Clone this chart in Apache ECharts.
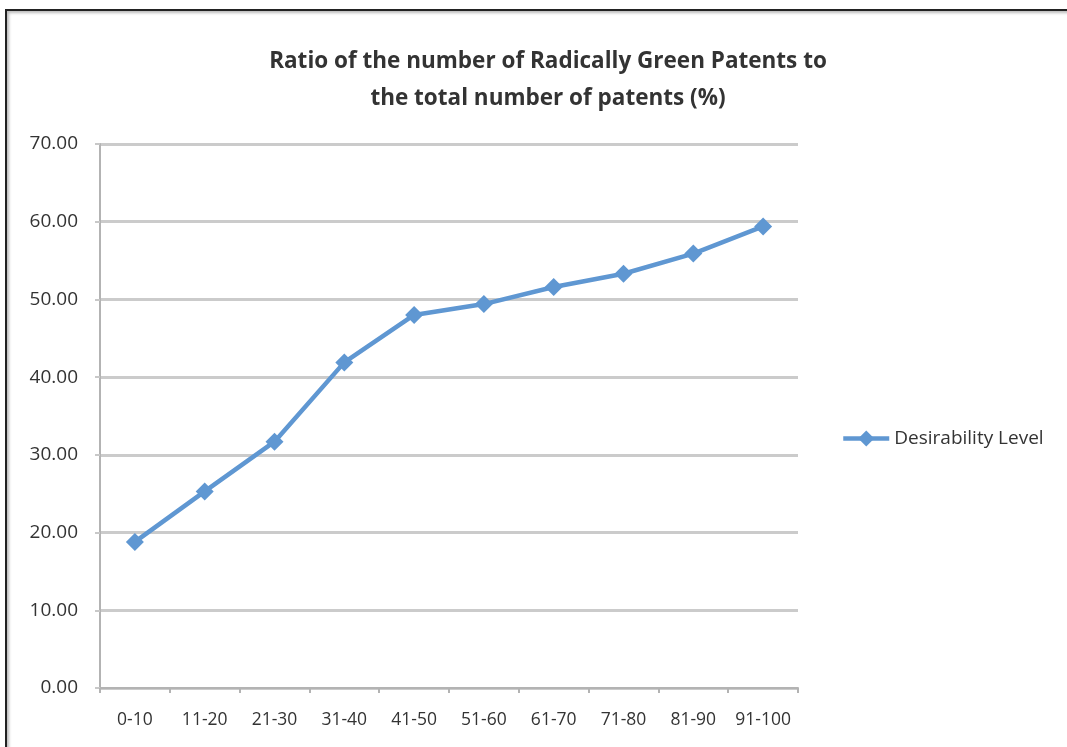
<!DOCTYPE html>
<html>
<head>
<meta charset="utf-8">
<script src="https://cdn.jsdelivr.net/npm/echarts@6/dist/echarts.min.js"></script>
<style>
html,body{margin:0;padding:0;background:#fff;}
#frame{position:absolute;left:5px;top:9px;width:1070px;height:745px;border-left:2px solid #222;border-top:2px solid #222;box-shadow:inset 2px 2px 3px #bbb;}
#chart{position:absolute;left:0;top:0;width:1067px;height:747px;}
</style>
</head>
<body>
<div id="frame"></div>
<div id="chart"></div>
<script>
const categories = ['0-10','11-20','21-30','31-40','41-50','51-60','61-70','71-80','81-90','91-100'];
const desirability = [18.8, 25.3, 31.7, 41.9, 48.0, 49.4, 51.6, 53.3, 55.9, 59.4];
const titleLines = ['Ratio of the number of Radically Green Patents to', 'the total number of patents (%)'];
const seriesName = 'Desirability Level';

const chart = echarts.init(document.getElementById('chart'), null, {renderer:'canvas'});
const lineColor = '#5f97d2';
const font = 'Open Sans';
chart.setOption({
  backgroundColor: 'transparent',
  animation: false,
  title: {
    text: titleLines.join('\n'),
    left: 543, top: 38, textAlign: 'center',
    textStyle: {fontFamily: font, fontWeight: 'bold', fontSize: 22.5, color: '#333', lineHeight: 37}
  },
  legend: {
    data: [seriesName],
    left: 836, top: 424,
    itemWidth: 46, itemHeight: 20, itemGap: 4,
    lineStyle: {width: 4.5},
    textStyle: {fontFamily: font, fontSize: 19, color: '#333'}
  },
  grid: {left: 100, right: 269, top: 144, bottom: 59, containLabel: false},
  xAxis: {
    type: 'category', data: categories, boundaryGap: true,
    axisLine: {lineStyle: {color: '#b3b3b3', width: 2}},
    axisTick: {show: true, interval: 0, length: 5, lineStyle: {color: '#b3b3b3', width: 2}},
    axisLabel: {interval: 0, hideOverlap: false, fontFamily: font, fontSize: 17.5, color: '#333', margin: 23}
  },
  yAxis: {
    type: 'value', min: 0, max: 70, interval: 10,
    axisLine: {show: true, lineStyle: {color: '#b3b3b3', width: 2}},
    axisTick: {show: true, length: 5, lineStyle: {color: '#c8c8c8', width: 2}},
    splitLine: {lineStyle: {color: '#cbcbcb', width: 3}},
    axisLabel: {fontFamily: font, fontSize: 19, color: '#333', margin: 22, formatter: v => v.toFixed(2)}
  },
  series: [{
    name: seriesName, type: 'line', data: desirability,
    symbol: 'diamond', symbolSize: 18,
    lineStyle: {color: lineColor, width: 4.5},
    itemStyle: {color: lineColor}
  }]
});
</script>
</body>
</html>
